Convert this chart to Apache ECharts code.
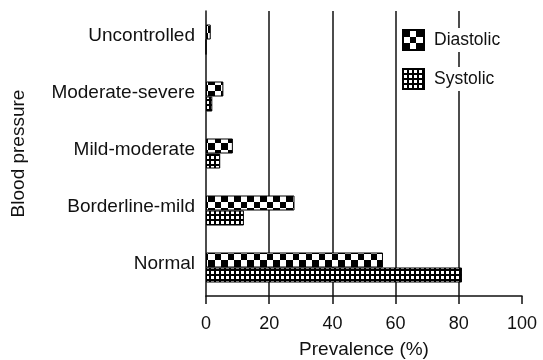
<!DOCTYPE html>
<html lang="en">
<head>
    <meta charset="UTF-8">
    <title>Blood pressure prevalence</title>
    <script src="https://cdn.jsdelivr.net/npm/echarts@6/dist/echarts.min.js"></script>
    <style>
        html, body, #chart {
            width: 543px;
            height: 360px;
            padding: 0;
            margin: 0;
            background: #fff;
        }
    </style>
</head>
<body>
<div id="chart"></div>
<script>
    // top to bottom
    var categories = ["Uncontrolled", "Moderate-severe", "Mild-moderate", "Borderline-mild", "Normal"];
    var diastolic = [1.5, 5.5, 8.5, 28, 56];
    var systolic = [0, 2, 4.5, 12, 81];
    var xTicks = [0, 20, 40, 60, 80, 100];

    // checkerboard fill
    function checker() {
        var c = document.createElement("canvas");
        c.width = 13; c.height = 13;
        var g = c.getContext("2d");
        g.fillStyle = "#fff"; g.fillRect(0, 0, 13, 13);
        g.fillStyle = "#000";
        g.fillRect(0, 0, 7, 7);
        g.fillRect(7, 7, 6, 6);
        return {image: c, repeat: "repeat"};
    }

    // fine grid fill
    function grid() {
        var c = document.createElement("canvas");
        c.width = 5; c.height = 5;
        var g = c.getContext("2d");
        g.fillStyle = "#000"; g.fillRect(0, 0, 5, 5);
        g.fillStyle = "#fff"; g.fillRect(1, 1, 3, 3);
        return {image: c, repeat: "repeat"};
    }

    var font = "Liberation Sans";
    var ink = "#111";
    var myChart = echarts.init(document.getElementById("chart"));
    myChart.setOption({
        animation: false,
        backgroundColor: "#fff",
        textStyle: {fontFamily: font, color: ink},
        grid: {left: 206, right: 21, top: 11, bottom: 64, outerBoundsMode: "none"},
        legend: {
            orient: "vertical",
            left: 402,
            top: 28,
            padding: 0,
            itemWidth: 21,
            itemHeight: 20,
            itemGap: 15,
            icon: "rect",
            data: ["Diastolic", "Systolic"],
            textStyle: {fontFamily: font, fontSize: 17.5, color: ink,
                backgroundColor: "#fff", padding: [3, 2, 3, 5]}
        },
        xAxis: {
            type: "value",
            min: 0,
            max: 100,
            interval: 20,
            name: "Prevalence (%)",
            nameLocation: "middle",
            nameGap: 44,
            nameTextStyle: {fontFamily: font, fontSize: 19, color: ink},
            axisLine: {show: true, lineStyle: {color: ink, width: 1.5}},
            axisTick: {show: true, length: 8, lineStyle: {color: ink, width: 1.5}},
            axisLabel: {
                margin: 19, fontFamily: font, fontSize: 18, color: ink,
                formatter: function (v) { return xTicks.indexOf(v) >= 0 ? String(v) : ""; }
            },
            splitLine: {show: true, showMinLine: false, showMaxLine: false,
                lineStyle: {color: ink, width: 1.5}}
        },
        yAxis: {
            type: "category",
            inverse: true,
            data: categories,
            name: "Blood pressure",
            nameLocation: "middle",
            nameGap: 178,
            nameRotate: 90,
            nameTextStyle: {fontFamily: font, fontSize: 19, color: ink},
            axisLine: {show: true, lineStyle: {color: ink, width: 1.5}},
            axisTick: {show: false},
            axisLabel: {
                margin: 11, fontFamily: font, fontSize: 19, color: ink,
                formatter: function (v) { return "{a|" + v + "}"; },
                rich: {a: {fontFamily: font, fontSize: 19, color: ink, padding: [0, 0, 7, 0]}}
            }
        },
        series: [{
            name: "Diastolic",
            type: "bar",
            data: diastolic,
            barWidth: 15,
            barGap: "0%",
            itemStyle: {color: checker(), borderColor: "#000", borderWidth: 1}
        }, {
            name: "Systolic",
            type: "bar",
            data: systolic,
            barWidth: 15,
            barGap: "0%",
            itemStyle: {color: grid(), borderColor: "#000", borderWidth: 1}
        }]
    });
</script>
</body>
</html>
